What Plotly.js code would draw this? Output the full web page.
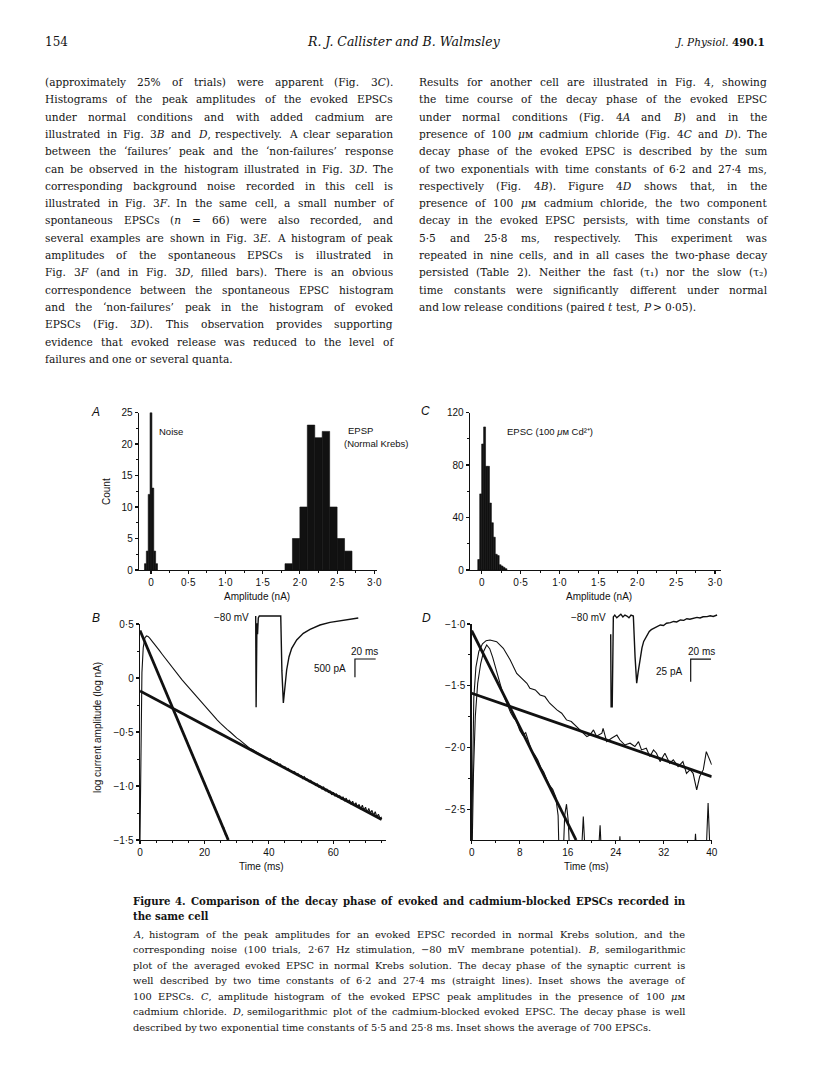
<!DOCTYPE html>
<html><head><meta charset="utf-8">
<script src="https://cdn.plot.ly/plotly-3.0.1.min.js"></script>
<style>html,body{margin:0;padding:0;background:#fff;}#chart{width:816px;height:1088px;}</style>
</head><body><div id="chart"></div>
<script>
// ---------------- DATA ----------------
// Panel A: amplitude histograms (nA, counts)
const noiseBinCenters = [-0.075, -0.05, -0.025, 0, 0.025, 0.05, 0.075];
const noiseCounts     = [1, 3, 12, 25, 13, 3, 1];
const epspBinCenters  = [1.85, 1.95, 2.05, 2.15, 2.25, 2.35, 2.45, 2.55, 2.65];
const epspCounts      = [1, 5, 10, 23, 21, 22, 10, 5, 3];
// Panel C: EPSC amplitude histogram in 100 uM Cd
const cdBinCenters = [-0.0375, -0.0125, 0.0125, 0.0375, 0.0625, 0.0875, 0.1125, 0.1375, 0.1625, 0.1875, 0.2125, 0.2375, 0.2625, 0.2875, 0.3125];
const cdCounts     = [8, 58, 96, 109, 79, 79, 51, 36, 25, 12, 11, 4, 3, 2, 1];
// Panel B: semilog decay (ms, log nA)
const bFitSlowT = [0, 75];    const bFitSlowY = [-0.12, -1.31];
const bFitFastT = [0, 27.4];  const bFitFastY = [0.44, -1.5];
const bDataT = [0, 0.3, 0.6, 1.0, 1.5, 2.0, 2.5, 3, 4, 5, 6, 7, 8, 9, 10, 11, 12, 13, 14, 15, 16, 17, 18, 19, 20, 21, 22, 23, 24, 25, 26, 27, 28, 29, 30, 31, 32, 33, 34, 35, 36, 37, 38];
const bDataY = [-1.5, -0.6, 0.05, 0.28, 0.37, 0.39, 0.385, 0.37, 0.335, 0.295, 0.255, 0.215, 0.175, 0.135, 0.095, 0.058, 0.02, -0.015, -0.05, -0.085, -0.12, -0.155, -0.19, -0.225, -0.26, -0.29, -0.32, -0.355, -0.39, -0.42, -0.45, -0.475, -0.5, -0.53, -0.555, -0.575, -0.6, -0.625, -0.65, -0.665, -0.685, -0.70, -0.72];
const bTailStart = 38, bTailStep = 0.5;
const bTailY = [-0.720, -0.735, -0.738, -0.742, -0.760, -0.748, -0.772, -0.770, -0.787, -0.781, -0.804, -0.795, -0.816, -0.826, -0.822, -0.848, -0.838, -0.858, -0.862, -0.875, -0.868, -0.895, -0.884, -0.908, -0.905, -0.932, -0.915, -0.942, -0.936, -0.962, -0.948, -0.975, -0.972, -0.995, -0.980, -1.010, -1.002, -1.028, -1.010, -1.045, -1.030, -1.060, -1.048, -1.082, -1.058, -1.095, -1.074, -1.105, -1.090, -1.125, -1.100, -1.140, -1.112, -1.150, -1.128, -1.170, -1.140, -1.180, -1.155, -1.195, -1.170, -1.215, -1.178, -1.222, -1.196, -1.245, -1.208, -1.250, -1.225, -1.272, -1.238, -1.285, -1.262, -1.300, -1.285];
const bFastStart = 1, bFastStep = 0.5;
const bFastY = [0.37, 0.335, 0.30, 0.265, 0.23, 0.19, 0.16, 0.12, 0.085, 0.05, 0.015, -0.02, -0.055, -0.09, -0.125, -0.16, -0.195, -0.235, -0.265, -0.305, -0.34, -0.375, -0.41, -0.445, -0.48, -0.515, -0.55, -0.59, -0.62, -0.655, -0.695, -0.725, -0.765, -0.795, -0.83, -0.875, -0.90, -0.945, -0.965, -1.01, -1.04, -1.085, -1.105, -1.16, -1.18, -1.225, -1.25, -1.30, -1.32, -1.37, -1.385, -1.45, -1.46, -1.53, -1.55];
// Panel D: semilog decay in Cd (ms, log nA)
const dFitSlowT = [0, 40];    const dFitSlowY = [-1.561, -2.236];
const dFitFastT = [0, 17.4];  const dFitFastY = [-1.054, -2.75];
const dDataT = [0, 0.15, 0.35, 0.7, 1.2, 1.8, 2.4, 3.05, 4.16, 5.27, 6.4, 7.5, 8.6, 9.2, 9.7, 10.6, 11.4, 12.2, 13.0, 14.2, 15.0, 15.8, 16.6, 17.5, 18.6, 19.2, 19.7, 20.3, 20.8, 21.7, 21.9, 22.5, 23.3, 24.2, 24.7, 25.5, 26.4, 27.2, 27.8, 28.3, 29.1, 29.7, 30.3, 30.8, 31.4, 32.2, 33.0, 33.6, 34.4, 35.2, 35.8, 36.4, 36.9, 37.5, 38.0, 38.6, 39.1, 39.6, 40.0];
const dDataY = [-2.75, -2.0, -1.6, -1.35, -1.22, -1.16, -1.135, -1.13, -1.143, -1.197, -1.29, -1.40, -1.453, -1.48, -1.52, -1.534, -1.575, -1.588, -1.642, -1.696, -1.723, -1.777, -1.79, -1.83, -1.885, -1.912, -1.90, -1.858, -1.91, -1.885, -1.845, -1.953, -1.926, -1.90, -1.94, -1.98, -1.966, -1.993, -1.953, -2.02, -2.007, -2.074, -2.02, -2.047, -2.115, -2.047, -2.128, -2.10, -2.155, -2.115, -2.21, -2.18, -2.21, -2.344, -2.236, -2.18, -2.034, -2.10, -2.14];
const dFastT = [0.1, 0.3, 0.6, 1.0, 1.5, 2.0, 2.5, 3.0, 3.5, 4.0, 4.5, 5.0, 5.5, 6.0, 6.5, 7.0, 7.5, 8.0, 8.5, 9.0, 9.5, 10.0, 10.5, 11.0, 11.5, 12.0, 12.5, 13.0, 13.5, 14.0, 14.4, 14.6, 15.2, 15.5, 15.8, 16.1, 16.4, 18.2, 18.6, 19.0, 21.0, 21.4, 21.7, 24.4, 24.7, 25.0, 37.0, 37.3, 37.6, 39.0, 39.4, 39.8];
const dFastY = [-2.75, -2.2, -1.75, -1.48, -1.32, -1.22, -1.17, -1.2, -1.27, -1.36, -1.45, -1.53, -1.6, -1.66, -1.72, -1.76, -1.79, -1.86, -1.90, -1.88, -1.95, -2.03, -2.06, -2.10, -2.16, -2.2, -2.26, -2.31, -2.34, -2.40, -2.55, -2.95, -2.95, -2.55, -2.46, -2.6, -2.95, -2.95, -2.56, -2.95, -2.95, -2.63, -2.95, -2.95, -2.72, -2.95, -2.95, -2.70, -2.95, -2.95, -2.45, -2.95];
// Insets (ms, pA)
const insetBT = [0, 0.4, 1.2, 1.8, 2.5, 3.5, 24.2, 25.3, 26.7, 28.3, 29.9, 32.2, 34.8, 39.6, 46.0, 52.5, 62.1, 71.8, 84.6, 99.1];
const insetBI = [0, -2490, -200, -500, -50, 0, 0, -1500, -2377, -1931, -1475, -1112, -883, -656, -473, -364, -246, -173, -109, -55];
const scaleBarBT = [115.9, 95.9, 95.9]; const scaleBarBI = [-1175, -1175, -1675];   // 20 ms, 500 pA
const insetDT = [0, 0.4, 1.5, 2.2, 2.6, 4, 6, 8, 10, 12, 14, 16, 18, 20, 22.3, 24.0, 25.6, 27.0, 29.2, 30.8, 32.5, 34.0, 35.8, 38, 40, 42.3, 45, 48.9, 52, 55, 58.8, 62, 65, 68.7, 72, 75, 78, 81.8, 85, 88, 91, 95, 98, 101, 104.8];
const insetDI = [-20, -100, -100, -5, -1, 1, -2, 0, 2, -1, 1, 0, -2, 1, 0, -45, -74, -62, -45, -35, -28, -25, -21, -17, -15, -13.6, -12, -9.9, -10.5, -8, -7.3, -6, -6.5, -4.4, -4.8, -3, -3.6, -2.6, -1.5, -2.2, -0.8, -0.7, 0.3, -0.5, 1.1];
const scaleBarDT = [98.8, 78.8, 78.8]; const scaleBarDI = [-47.4, -47.4, -72.4];     // 20 ms, 25 pA
// Tick labels
const ampTickVals = [0, 0.5, 1, 1.5, 2, 2.5, 3];
const ampTickText = ['0', '0·5', '1·0', '1·5', '2·0', '2·5', '3·0'];
const countATicks = [0, 5, 10, 15, 20, 25];
const countCTicks = [0, 40, 80, 120];
const bTimeTicks = [0, 20, 40, 60];
const bLogTickVals = [0.5, 0, -0.5, -1, -1.5];
const bLogTickText = ['0·5', '0', '−0·5', '−1·0', '−1·5'];
const dTimeTicks = [0, 8, 16, 24, 32, 40];
const dLogTickVals = [-1, -1.5, -2, -2.5];
const dLogTickText = ['−1·0', '−1·5', '−2·0', '−2·5'];

// Text
const leftLines = [
"(approximately 25% of trials) were apparent (Fig. 3<i>C</i>).",
"Histograms of the peak amplitudes of the evoked EPSCs",
"under normal conditions and with added cadmium are",
"illustrated in Fig. 3<i>B</i> and <i>D</i>, respectively. A clear separation",
"between the ‘failures’ peak and the ‘non-failures’ response",
"can be observed in the histogram illustrated in Fig. 3<i>D</i>. The",
"corresponding background noise recorded in this cell is",
"illustrated in Fig. 3<i>F</i>. In the same cell, a small number of",
"spontaneous EPSCs (<i>n</i> = 66) were also recorded, and",
"several examples are shown in Fig. 3<i>E</i>. A histogram of peak",
"amplitudes of the spontaneous EPSCs is illustrated in",
"Fig. 3<i>F</i> (and in Fig. 3<i>D</i>, filled bars). There is an obvious",
"correspondence between the spontaneous EPSC histogram",
"and the ‘non-failures’ peak in the histogram of evoked",
"EPSCs (Fig. 3<i>D</i>). This observation provides supporting",
"evidence that evoked release was reduced to the level of",
"failures and one or several quanta."];
const rightLines = [
"Results for another cell are illustrated in Fig. 4, showing",
"the time course of the decay phase of the evoked EPSC",
"under normal conditions (Fig. 4<i>A</i> and <i>B</i>) and in the",
"presence of 100 <i>μ</i>ᴍ cadmium chloride (Fig. 4<i>C</i> and <i>D</i>). The",
"decay phase of the evoked EPSC is described by the sum",
"of two exponentials with time constants of 6·2 and 27·4 ms,",
"respectively (Fig. 4<i>B</i>). Figure 4<i>D</i> shows that, in the",
"presence of 100 <i>μ</i>ᴍ cadmium chloride, the two component",
"decay in the evoked EPSC persists, with time constants of",
"5·5 and 25·8 ms, respectively. This experiment was",
"repeated in nine cells, and in all cases the two-phase decay",
"persisted (Table 2). Neither the fast (τ₁) nor the slow (τ₂)",
"time constants were significantly different under normal",
"and low release conditions (paired <i>t</i> test, <i>P</i> &gt; 0·05)."];
const captionTitle = [
"Figure 4. Comparison of the decay phase of evoked and cadmium-blocked EPSCs recorded in",
"the same cell"];
const captionLines = [
"<i>A</i>, histogram of the peak amplitudes for an evoked EPSC recorded in normal Krebs solution, and the",
"corresponding noise (100 trials, 2·67 Hz stimulation, −80 mV membrane potential). <i>B</i>, semilogarithmic",
"plot of the averaged evoked EPSC in normal Krebs solution. The decay phase of the synaptic current is",
"well described by two time constants of 6·2 and 27·4 ms (straight lines). Inset shows the average of",
"100 EPSCs. <i>C</i>, amplitude histogram of the evoked EPSC peak amplitudes in the presence of 100 <i>μ</i>ᴍ",
"cadmium chloride. <i>D</i>, semilogarithmic plot of the cadmium-blocked evoked EPSC. The decay phase is well",
"described by two exponential time constants of 5·5 and 25·8 ms. Inset shows the average of 700 EPSCs."];

// ---------------- LAYOUT HELPERS ----------------
const W = 816, H = 1088;
const PX = v => v / W, PY = v => 1 - v / H;
const domX = (a, b) => [a / W, b / W];
const domY = (top, bottom) => [1 - bottom / H, 1 - top / H];
const INK = '#111111';
const SANS = 'Liberation Sans', SERIF = 'DejaVu Serif';

function axis(domain, range, anchor, extra) {
  return Object.assign({
    domain, range, anchor, showline: true, linecolor: INK, linewidth: 1.3,
    ticks: 'outside', ticklen: 3, tickwidth: 1.1, tickcolor: INK,
    showgrid: false, zeroline: false, fixedrange: true,
    tickfont: {family: SANS, size: 10, color: INK}
  }, extra);
}
function minor(vals) { return {tickmode: 'array', tickvals: vals, ticks: 'outside', ticklen: 2, tickwidth: 1, tickcolor: INK}; }
const hidden = (domain, range, anchor) => ({domain, range, anchor, visible: false, fixedrange: true});

const annotations = [];
function label(text, x, y, o) {
  o = o || {};
  annotations.push({xref: 'paper', yref: 'paper', x: PX(x), y: PY(y), text, showarrow: false,
    xanchor: o.xa || 'left', yanchor: 'middle', textangle: o.angle || 0, borderpad: 0,
    font: {family: o.family || SANS, size: o.size || 10, color: INK}});
}

// text measurement for justified blocks
const ctx = document.createElement('canvas').getContext('2d');
const plain = s => s.replace(/<[^>]+>/g, '').replace(/&gt;/g, '>').replace(/&lt;/g, '<').replace(/&amp;/g, '&');
function tw(s, size, fam, wt) { ctx.font = (wt || 'normal') + ' ' + size + 'px "' + fam + '"'; return ctx.measureText(plain(s)).width; }

function textBlock(lines, x0, x1, y0, dy, o) {
  const fam = o.family, wt = o.weight || 'normal', Wd = x1 - x0;
  const skip = o.noJustify || [];
  let size = o.size, worst = 0;
  lines.forEach((ln) => {
    const words = ln.split(' ');
    const w = words.reduce((a, wd) => a + tw(wd, size, fam, wt), 0) + (words.length - 1) * 0.2 * size;
    worst = Math.max(worst, w / Wd);
  });
  if (worst > 1) size = size / worst;
  lines.forEach((ln, i) => {
    const words = ln.split(' ');
    const widths = words.map(wd => tw(wd, size, fam, wt));
    const sum = widths.reduce((a, b) => a + b, 0);
    const just = !skip.includes(i) && words.length > 1;
    const gap = just ? (Wd - sum) / (words.length - 1) : tw(' ', size, fam, wt);
    let x = x0; const y = y0 + dy * i;
    words.forEach((wd, k) => {
      const t = wt === 'bold' ? '<b>' + wd + '</b>' : wd;
      annotations.push({xref: 'paper', yref: 'paper', x: PX(x), y: PY(y), xanchor: 'left', yanchor: 'middle',
        showarrow: false, borderpad: 0, text: t, font: {family: fam, size: size, color: '#141414'}});
      x += widths[k] + gap;
    });
  });
}

// ---------------- TRACES ----------------
const bar = (x, y, w, xa, ya) => ({type: 'bar', x, y, width: w, xaxis: xa, yaxis: ya,
  marker: {color: INK, line: {color: INK, width: 0.6}}, hoverinfo: 'skip'});
const line = (x, y, xa, ya, w, extra) => Object.assign({type: 'scatter', mode: 'lines', x, y, xaxis: xa, yaxis: ya,
  line: {color: INK, width: w}, hoverinfo: 'skip'}, extra || {});

const traces = [
  bar(noiseBinCenters, noiseCounts, 0.025, 'x', 'y'),
  bar(epspBinCenters, epspCounts, 0.1, 'x', 'y'),
  bar(cdBinCenters, cdCounts, 0.025, 'x2', 'y2'),
  line(bFitSlowT, bFitSlowY, 'x3', 'y3', 2.8),
  line(bFitFastT, bFitFastY, 'x3', 'y3', 2.8),
  line(bDataT, bDataY, 'x3', 'y3', 1.1),
  line(null, bTailY, 'x3', 'y3', 1.1, {x0: bTailStart, dx: bTailStep}),
  line(null, bFastY, 'x3', 'y3', 1.1, {x0: bFastStart, dx: bFastStep}),
  line(dFitSlowT, dFitSlowY, 'x4', 'y4', 2.8),
  line(dFitFastT, dFitFastY, 'x4', 'y4', 2.8),
  line(dDataT, dDataY, 'x4', 'y4', 1.1),
  line(dFastT, dFastY, 'x4', 'y4', 1.1),
  line(insetBT, insetBI, 'x5', 'y5', 1.4),
  line(scaleBarBT, scaleBarBI, 'x5', 'y5', 1.2),
  line(insetDT, insetDI, 'x6', 'y6', 1.4),
  line(scaleBarDT, scaleBarDI, 'x6', 'y6', 1.2)
];

// ---------------- ANNOTATIONS ----------------
label('154', 44, 42, {family: SERIF, size: 12});
label('<i>R. J. Callister and B. Walmsley</i>', 404, 42, {family: SERIF, size: 12.5, xa: 'center'});
label('<i>J. Physiol.</i> <b>490.1</b>', 766, 42, {family: SERIF, size: 10.5, xa: 'right'});
textBlock(leftLines, 44, 392, 82, 17.3, {family: SERIF, size: 10.6, noJustify: [16]});
textBlock(rightLines, 418, 766, 82, 17.3, {family: SERIF, size: 10.6, noJustify: [13]});
textBlock(captionTitle, 131.7, 684, 900.7, 15.5, {family: SERIF, size: 10.2, weight: 'bold', noJustify: [1]});
textBlock(captionLines, 131.7, 684, 934.3, 15.5, {family: SERIF, size: 9.8, noJustify: [6]});
label('<i>A</i>', 95.5, 412, {size: 12, xa: 'center'});
label('<i>C</i>', 425, 411, {size: 12, xa: 'center'});
label('<i>B</i>', 96, 618, {size: 12, xa: 'center'});
label('<i>D</i>', 426, 618, {size: 12, xa: 'center'});
label('Noise', 158, 431, {size: 9.5});
label('EPSP', 346.7, 430.7, {size: 9.5});
label('(Normal Krebs)', 343, 443.3, {size: 9.5});
label('EPSC (100 <i>μ</i>ᴍ Cd²⁺)', 506, 431.7, {size: 9.5});
label('Count', 107, 492, {size: 10, xa: 'center', angle: -90});
label('Amplitude (nA)', 257, 596, {size: 10, xa: 'center'});
label('Amplitude (nA)', 599, 596, {size: 10, xa: 'center'});
label('log current amplitude (log nA)', 97, 728, {size: 10, xa: 'center', angle: -90});
label('Time (ms)', 261, 866, {size: 10, xa: 'center'});
label('Time (ms)', 586, 866, {size: 10, xa: 'center'});
label('−80 mV', 250, 617, {size: 10, xa: 'right'});
label('−80 mV', 606.7, 617, {size: 10, xa: 'right'});
label('20 ms', 364, 651.7, {size: 10, xa: 'center'});
label('500 pA', 346.7, 668.3, {size: 10, xa: 'right'});
label('20 ms', 701, 651.7, {size: 10, xa: 'center'});
label('25 pA', 683.3, 671.7, {size: 10, xa: 'right'});

// ---------------- LAYOUT ----------------
const layout = {
  width: W, height: H, margin: {l: 0, r: 0, t: 0, b: 0},
  paper_bgcolor: '#ffffff', plot_bgcolor: 'rgba(0,0,0,0)', showlegend: false,
  barmode: 'overlay', bargap: 0,
  xaxis: axis(domX(139, 377), [-0.161, 3.036], 'y', {tickmode: 'array', tickvals: ampTickVals, ticktext: ampTickText, minor: minor([0.25, 0.75, 1.25, 1.75, 2.25, 2.75])}),
  yaxis: axis(domY(412.5, 570), [0, 25], 'x', {tickmode: 'array', tickvals: countATicks, ticktext: countATicks.map(String), minor: minor([2.5, 7.5, 12.5, 17.5, 22.5])}),
  xaxis2: axis(domX(470, 721), [-0.150, 3.077], 'y2', {tickmode: 'array', tickvals: ampTickVals, ticktext: ampTickText, minor: minor([0.25, 0.75, 1.25, 1.75, 2.25, 2.75])}),
  yaxis2: axis(domY(412.5, 570), [0, 120], 'x2', {tickmode: 'array', tickvals: countCTicks, ticktext: countCTicks.map(String), minor: minor([20, 60, 100])}),
  xaxis3: axis(domX(140, 386), [0, 76.35], 'y3', {tickmode: 'array', tickvals: bTimeTicks, ticktext: bTimeTicks.map(String), minor: minor([5, 10, 15, 25, 30, 35, 45, 50, 55, 65, 70, 75])}),
  yaxis3: axis(domY(624, 840), [-1.5, 0.5], 'x3', {tickmode: 'array', tickvals: bLogTickVals, ticktext: bLogTickText, minor: minor([0.25, -0.25, -0.75, -1.25])}),
  xaxis4: axis(domX(471.7, 711.7), [0, 40], 'y4', {tickmode: 'array', tickvals: dTimeTicks, ticktext: dTimeTicks.map(String), minor: minor([4, 12, 20, 28, 36])}),
  yaxis4: axis(domY(624, 840), [-2.75, -1.0], 'x4', {tickmode: 'array', tickvals: dLogTickVals, ticktext: dLogTickText, minor: minor([-1.25, -1.75, -2.25])}),
  xaxis5: hidden(domX(250, 380), [-5.51, 120.1], 'y5'),
  yaxis5: hidden(domY(612, 712), [-2623, 109.3], 'x5'),
  xaxis6: hidden(domX(600, 725), [-10.54, 112.6], 'y6'),
  yaxis6: hidden(domY(612, 715), [-109.0, 4.41], 'x6'),
  annotations
};

Plotly.newPlot('chart', traces, layout, {staticPlot: true, displayModeBar: false});
</script>
</body></html>
